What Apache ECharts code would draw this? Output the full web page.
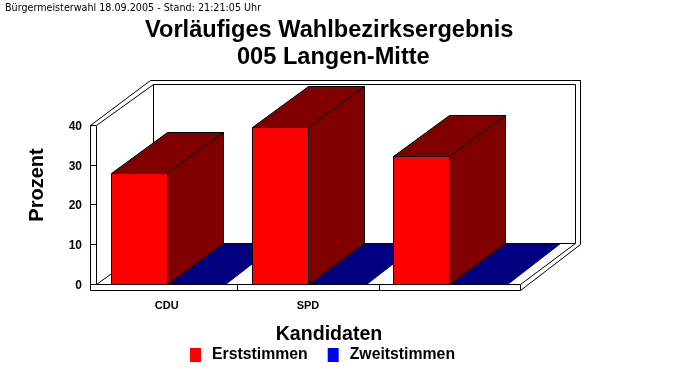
<!DOCTYPE html>
<html>
<head>
<meta charset="utf-8">
<style>html,body{margin:0;padding:0;background:#fff}#c{width:683px;height:380px}</style>
<script src="https://cdn.jsdelivr.net/npm/echarts@6/dist/echarts.min.js"></script>
</head>
<body>
<div id="c"></div>
<script>
var categories = ['CDU', 'SPD', ''];
var erststimmen = [27.9, 39.6, 32.1];
var zweitstimmen = [0, 0, 0];

var DX = 57, DY = 41, BAR = 56;
var chart = echarts.init(document.getElementById('c'), null, {renderer: 'canvas'});
function snap(v) { return Math.round(v) + 0.5; }
function poly(pts, fill, stroke) {
  return {type: 'polygon', shape: {points: pts},
    style: {fill: fill, stroke: stroke || '#000', lineWidth: 1}};
}
function line(x1, y1, x2, y2) {
  return {type: 'line', shape: {x1: x1, y1: y1, x2: x2, y2: y2},
    style: {stroke: '#000', lineWidth: 1, fill: null}};
}
function barRenderer(sign, front, dark, width, inset, topStroke) {
  return function (params, api) {
    var cat = api.value(0), val = api.value(1);
    var c = api.coord([cat, val]), b = api.coord([cat, 0]);
    var x0 = snap(sign < 0 ? c[0] - width : c[0]);
    var x1 = x0 + width;
    var yt = snap(c[1]), yb = snap(b[1]);
    var dx = DX - 1, dy = DY;
    var kids = [];
    kids.push(poly([[x0, yt], [x1, yt], [x1 + dx - inset, yt - dy], [x0 + dx, yt - dy]], dark, topStroke));
    if (yb > yt) {
      kids.push(poly([[x1, yt], [x1 + dx, yt - dy], [x1 + dx, yb - dy], [x1, yb]], dark));
      kids.push(poly([[x0, yt], [x1, yt], [x1, yb], [x0, yb]], front));
    }
    return {type: 'group', children: kids};
  };
}
function frameRenderer(params, api) {
  var g = params.coordSys;
  var L = snap(g.x), R = snap(g.x + g.width), T = snap(g.y), B = snap(g.y + g.height);
  var o = 6, oy = 6;
  var kids = [
    line(L - o, T, L - o + 60, T - 45),
    line(L - o + 60, T - 45, R + DX + 3, T - 45),
    line(R + DX + 3, T - 45, R + DX + 3, B - DY + 1),
    line(R + DX + 3, B - DY + 1, R, B + oy),
    line(L - o, T, L - o, B + oy),
    line(L, T, L, B),
    line(L, T, L + DX, T - DY),
    line(L + DX, T - DY, R + DX - 2, T - DY),
    line(R + DX - 2, T - DY, R + DX - 2, B - DY),
    line(L, B, L + DX, B - DY),
    line(L + DX, T - DY, L + DX, B - DY),
    line(R, B, R, B + oy),
    line(R, B, R + DX - 2, B - DY),
    line(L - o, B + oy, R, B + oy),
    line(snap(g.x + g.width / 3), B, snap(g.x + g.width / 3), B + oy),
    line(snap(g.x + 2 * g.width / 3), B, snap(g.x + 2 * g.width / 3), B + oy)
  ];
  return {type: 'group', children: kids};
}
function edgeRenderer(params, api) {
  var g = params.coordSys;
  var L = snap(g.x), R = snap(g.x + g.width), B = snap(g.y + g.height);
  return {type: 'group', children: [
    line(L, B, R, B),
    line(L + DX, B - DY, R + DX - 2, B - DY)
  ]};
}
chart.setOption({
  animation: false,
  backgroundColor: '#fff',
  title: [
    {text: 'Bürgermeisterwahl 18.09.2005 - Stand: 21:21:05 Uhr', left: 5, top: 3, padding: 0,
      textStyle: {fontFamily: 'DejaVu Sans', fontSize: 9.6, fontWeight: 'normal', color: '#000'}},
    {text: 'Vorläufiges Wahlbezirksergebnis', left: 145, top: 18, padding: 0,
      textStyle: {fontFamily: 'Liberation Sans', fontSize: 23.6, fontWeight: 'bold', color: '#000'}},
    {text: '005 Langen-Mitte', left: 237, top: 45, padding: 0,
      textStyle: {fontFamily: 'Liberation Sans', fontSize: 23.6, fontWeight: 'bold', color: '#000'}}
  ],
  legend: {
    data: ['Erststimmen', 'Zweitstimmen'], left: 185, top: 342, icon: 'rect',
    itemWidth: 11, itemHeight: 14, itemGap: 20,
    textStyle: {fontFamily: 'Liberation Sans', fontSize: 15.8, fontWeight: 'bold', color: '#000', padding: [5, 0, 0, 6]}
  },
  grid: {left: 96, top: 125, width: 424, height: 159, containLabel: false},
  xAxis: {
    type: 'category', data: categories, boundaryGap: true,
    name: 'Kandidaten', nameLocation: 'middle', nameGap: 41,
    nameTextStyle: {fontFamily: 'Liberation Sans', fontSize: 19.6, fontWeight: 'bold', color: '#000', padding: [0, 0, 0, 42]},
    axisLine: {show: false}, axisTick: {show: false}, splitLine: {show: false},
    axisLabel: {fontFamily: 'Liberation Sans', fontSize: 11, fontWeight: 'bold', color: '#000', margin: 16, interval: 0}
  },
  yAxis: {
    type: 'value', min: 0, max: 40, interval: 10,
    name: 'Prozent', nameLocation: 'middle', nameGap: 49,
    nameTextStyle: {fontFamily: 'Liberation Sans', fontSize: 20, fontWeight: 'bold', color: '#000', padding: [0, 0, 0, 39]},
    axisLine: {show: false}, splitLine: {show: false},
    axisTick: {show: true, length: 6, lineStyle: {color: '#000', width: 1}},
    axisLabel: {margin: 14, formatter: '{a|{value}}',
      rich: {a: {fontFamily: 'Liberation Sans', fontSize: 12, fontWeight: 'bold', color: '#000', padding: [3, 0, 0, 0]}}}
  },
  series: [
    {type: 'custom', name: 'frame', data: [[0, 0]], silent: true, z: 1, renderItem: frameRenderer,
      encode: {x: 0, y: 1}},
    {type: 'custom', name: 'Zweitstimmen', z: 2, itemStyle: {color: '#0000ff'},
      data: categories.map(function (c, i) { return [i, zweitstimmen[i]]; }),
      encode: {x: 0, y: 1}, renderItem: barRenderer(1, '#0000ff', '#000080', 58, 3, '#000080')},
    {type: 'custom', name: 'edges', data: [[0, 0]], silent: true, z: 2.5, renderItem: edgeRenderer,
      encode: {x: 0, y: 1}},
    {type: 'custom', name: 'Erststimmen', z: 3, itemStyle: {color: '#ff0000'},
      data: categories.map(function (c, i) { return [i, erststimmen[i]]; }),
      encode: {x: 0, y: 1}, renderItem: barRenderer(-1, '#ff0000', '#800000', BAR, 0)}
  ]
});
</script>
</body>
</html>
